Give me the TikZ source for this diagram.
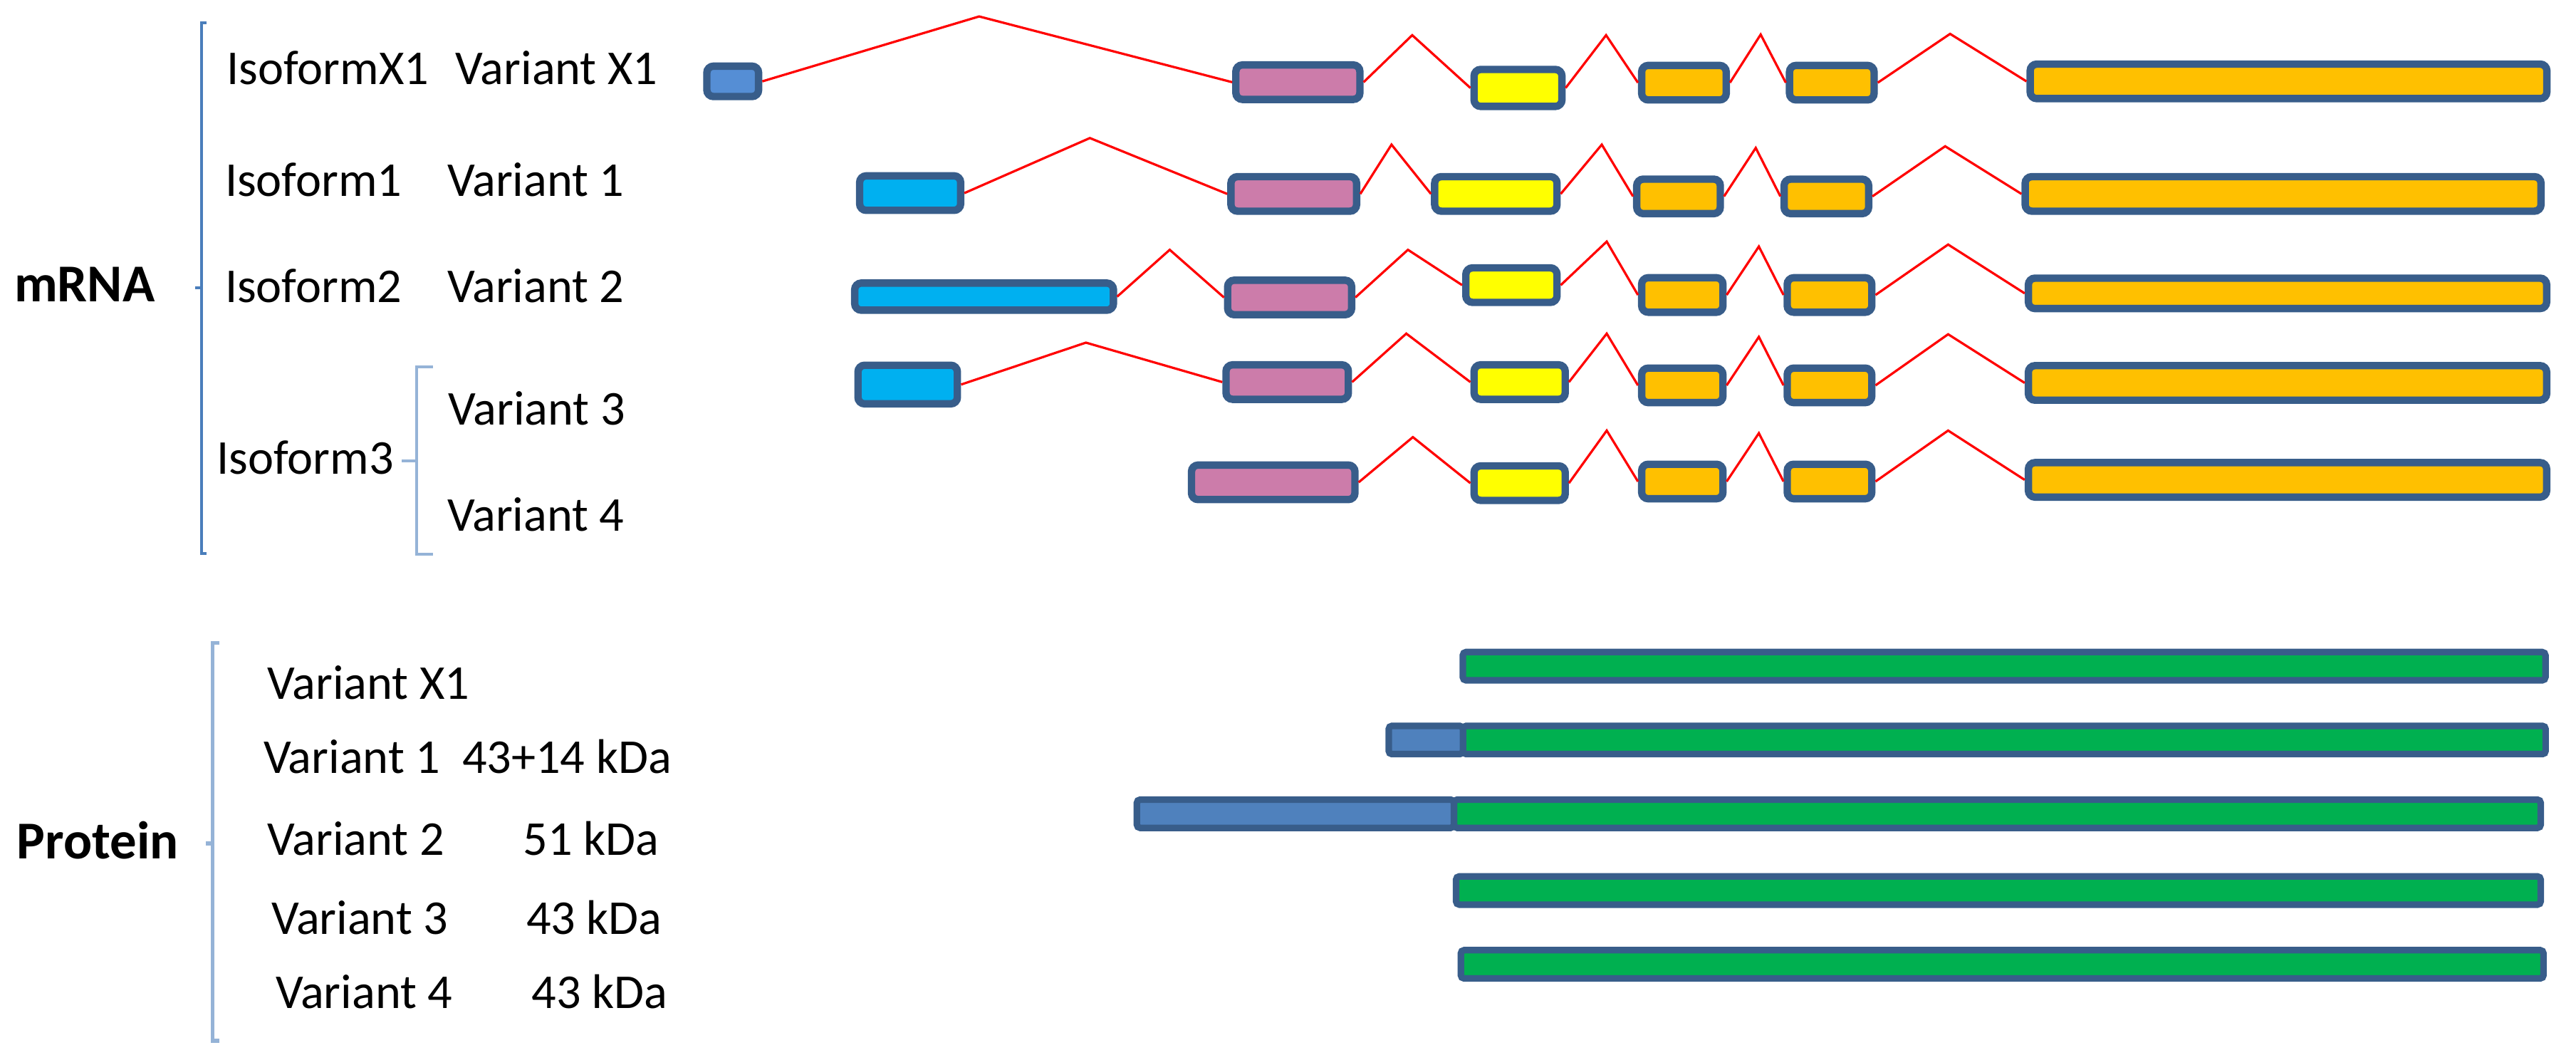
\documentclass[tikz,border=0pt]{standalone}
\usepackage{fontspec}
\setmainfont{Carlito}
\usepackage{tikz}
\usetikzlibrary{shapes,arrows,positioning}
\definecolor{rim}{RGB}{56, 93, 138}
\definecolor{blue1}{RGB}{85, 142, 213}
\definecolor{cyan1}{RGB}{0, 176, 240}
\definecolor{pink1}{RGB}{204, 124, 170}
\definecolor{yellow1}{RGB}{255, 255, 0}
\definecolor{orange1}{RGB}{255, 192, 0}
\definecolor{green1}{RGB}{0, 176, 80}
\definecolor{blue2}{RGB}{79, 129, 189}
\definecolor{brace1}{RGB}{74, 126, 187}
\definecolor{brace2}{RGB}{149, 179, 215}
\tikzstyle{exon} = [rectangle, rounded corners=2pt, draw=rim, line width=2.25pt, inner sep=0pt, minimum height=10.5pt]
\tikzstyle{blueex} = [exon, fill=blue1]
\tikzstyle{cyanex} = [exon, fill=cyan1]
\tikzstyle{pinkex} = [exon, fill=pink1]
\tikzstyle{yellowex} = [exon, fill=yellow1]
\tikzstyle{orangeex} = [exon, fill=orange1]
\tikzstyle{prot} = [rectangle, rounded corners=1pt, draw=rim, line width=2pt, inner sep=0pt, outer sep=0pt, minimum height=8.6pt, fill=green1]
\tikzstyle{ext} = [prot, fill=blue2]
\tikzstyle{textonly} = [draw=none, fill=none, inner sep=0pt, anchor=base west, font=\fontsize{14.8}{17}\selectfont]
\tikzstyle{title} = [textonly, font=\fontsize{16.2}{19}\selectfont\bfseries]
\tikzstyle{intron} = [draw=red, line width=0.7pt]
\tikzstyle{brace} = [draw=brace1, line width=0.9pt]

\begin{document}
\begin{tikzpicture}[x=0.5pt, y=-0.5pt]
\useasboundingbox (0,0) rectangle (1568,645);

% labels ==================================

% mRNA
\node[title] (mrna) at (8.3,183.5) {mRNA};
\node[textonly] (isoX1) at (137.6,51.3) {IsoformX1};
\node[textonly] (varX1) at (277,51.3) {Variant X1};
\node[textonly] (iso1) at (136.6,119.4) {Isoform1};
\node[textonly] (var1) at (272,119.4) {Variant 1};
\node[textonly] (iso2) at (136.6,184.2) {Isoform2};
\node[textonly] (var2) at (272,184.2) {Variant 2};
\node[textonly] (iso3) at (131.6,288.5) {Isoform3};
\node[textonly] (var3) at (272.6,258.7) {Variant 3};
\node[textonly] (var4) at (272,323.3) {Variant 4};

% protein
\node[title] (protein) at (10,522.5) {Protein};
\node[textonly] (pvX1) at (162.5,425.6) {Variant X1};
\node[textonly] (pv1) at (160,470.5) {Variant 1};
\node[textonly] (kd1) at (281,470.5) {43+14 kDa};
\node[textonly] (pv2) at (162.5,520.2) {Variant 2};
\node[textonly] (kd2) at (318,520.2) {51 kDa};
\node[textonly] (pv3) at (164.8,568.6) {Variant 3};
\node[textonly] (kd3) at (320,568.6) {43 kDa};
\node[textonly] (pv4) at (167.5,613.5) {Variant 4};
\node[textonly] (kd4) at (323.3,613.5) {43 kDa};

% brackets
\draw[brace] (125.5,13.7) -- (122.7,13.7) -- (122.7,337) -- (125.5,337) (122.7,175.3) -- (118.7,175.3);
\draw[brace, draw=brace2] (263.6,223.3) -- (253.7,223.3) -- (253.7,337.2) -- (263.6,337.2) (253.7,280.4) -- (244.4,280.4);
\draw[brace, draw=brace2, line width=1.2pt] (133.6,391.3) -- (129.3,391.3) -- (129.3,633.4) -- (133.6,633.4) (129.3,513.2) -- (125.3,513.2);

% exons ===================================

% variant X1
\node[blueex, minimum width=15.75pt, minimum height=9.25pt] (bX1) at (446,49.5) {};
\node[pinkex, minimum width=37.75pt] (pX1) at (790,50) {};
\node[yellowex, minimum width=26.75pt, minimum height=11.25pt] (yX1) at (924,53.5) {};
\node[orangeex, minimum width=25.75pt] (oX1a) at (1025,50.3) {};
\node[orangeex, minimum width=25.75pt] (oX1b) at (1115,50.3) {};
\node[orangeex, minimum width=157.25pt] (OX1) at (1393,49.5) {};

% variant 1
\node[cyanex, minimum width=30.75pt] (c1) at (554,117.5) {};
\node[pinkex, minimum width=38.25pt] (p1) at (787.5,118) {};
\node[yellowex, minimum width=37.25pt] (y1) at (910.5,118) {};
\node[orangeex, minimum width=25.45pt] (o1a) at (1021.7,119.5) {};
\node[orangeex, minimum width=25.75pt] (o1b) at (1111.7,119.5) {};
\node[orangeex, minimum width=157pt] (O1) at (1389.7,118) {};

% variant 2
\node[cyanex, minimum width=78.75pt, minimum height=8.25pt] (c2) at (599,180.5) {};
\node[pinkex, minimum width=37.75pt] (p2) at (785,181) {};
\node[yellowex, minimum width=27.75pt] (y2) at (920,173.5) {};
\node[orangeex, minimum width=24.75pt] (o2a) at (1024,179.5) {};
\node[orangeex, minimum width=25.75pt] (o2b) at (1113.6,179.5) {};
\node[orangeex, minimum width=157.75pt, minimum height=9.25pt] (O2) at (1392.4,178.5) {};

% variant 3
\node[cyanex, minimum width=30.25pt, minimum height=11.75pt] (c3) at (552.5,234) {};
\node[pinkex, minimum width=37.25pt] (p3) at (783.5,232.5) {};
\node[yellowex, minimum width=27.75pt] (y3) at (925,232.5) {};
\node[orangeex, minimum width=24.75pt] (o3a) at (1024,234.5) {};
\node[orangeex, minimum width=25.75pt] (o3b) at (1113.6,234.5) {};
\node[orangeex, minimum width=157.75pt] (O3) at (1392.4,233) {};

% variant 4
\node[pinkex, minimum width=49.75pt] (p4) at (775,293.5) {};
\node[yellowex, minimum width=27.75pt] (y4) at (925,294) {};
\node[orangeex, minimum width=24.75pt] (o4a) at (1024,293) {};
\node[orangeex, minimum width=25.75pt] (o4b) at (1113.6,293) {};
\node[orangeex, minimum width=157.75pt] (O4) at (1392.4,292) {};

% introns =================================
\draw[intron] (bX1.east) -- (596,10) -- (pX1.west);
\draw[intron] (pX1.east) -- (859.6,21.4) -- (yX1.west);
\draw[intron] (yX1.east) -- (977.6,21.4) -- (oX1a.west);
\draw[intron] (oX1a.east) -- (1071.7,21) -- (oX1b.west);
\draw[intron] (oX1b.east) -- (1187,20.6) -- (OX1.west);

\draw[intron] (c1.east) -- (663.4,84) -- (p1.west);
\draw[intron] (p1.east) -- (847,88) -- (y1.west);
\draw[intron] (y1.east) -- (975,88) -- (o1a.west);
\draw[intron] (o1a.east) -- (1068.7,90) -- (o1b.west);
\draw[intron] (o1b.east) -- (1184,89) -- (O1.west);

\draw[intron] (c2.east) -- (712,152) -- (p2.west);
\draw[intron] (p2.east) -- (857,152) -- (y2.west);
\draw[intron] (y2.east) -- (978,147) -- (o2a.west);
\draw[intron] (o2a.east) -- (1070.6,150) -- (o2b.west);
\draw[intron] (o2b.east) -- (1185.8,148.8) -- (O2.west);

\draw[intron] (c3.east) -- (661,208.5) -- (p3.west);
\draw[intron] (p3.east) -- (856,203) -- (y3.west);
\draw[intron] (y3.east) -- (978,203) -- (o3a.west);
\draw[intron] (o3a.east) -- (1070.6,205) -- (o3b.west);
\draw[intron] (o3b.east) -- (1185.8,203.4) -- (O3.west);

\draw[intron] (p4.east) -- (860,266) -- (y4.west);
\draw[intron] (y4.east) -- (978,262) -- (o4a.west);
\draw[intron] (o4a.east) -- (1070.6,263.6) -- (o4b.west);
\draw[intron] (o4b.east) -- (1185.8,262) -- (O4.west);

% proteins ================================
\node[prot, minimum width=329.5pt] (gX1) at (1219.9,405.4) {};
\node[prot, minimum width=329.5pt] (g1) at (1220,450.3) {};
\node[ext, left=0pt of g1, minimum width=22.6pt] (e1) {};
\node[prot, minimum width=330.75pt] (g2) at (1215.75,495.2) {};
\node[ext, left=0pt of g2, minimum width=96.5pt] (e2) {};
\node[prot, minimum width=330.1pt] (g3) at (1216.4,541.9) {};
\node[prot, minimum width=329.5pt] (g4) at (1218.7,586.8) {};

\end{tikzpicture}
\end{document}
